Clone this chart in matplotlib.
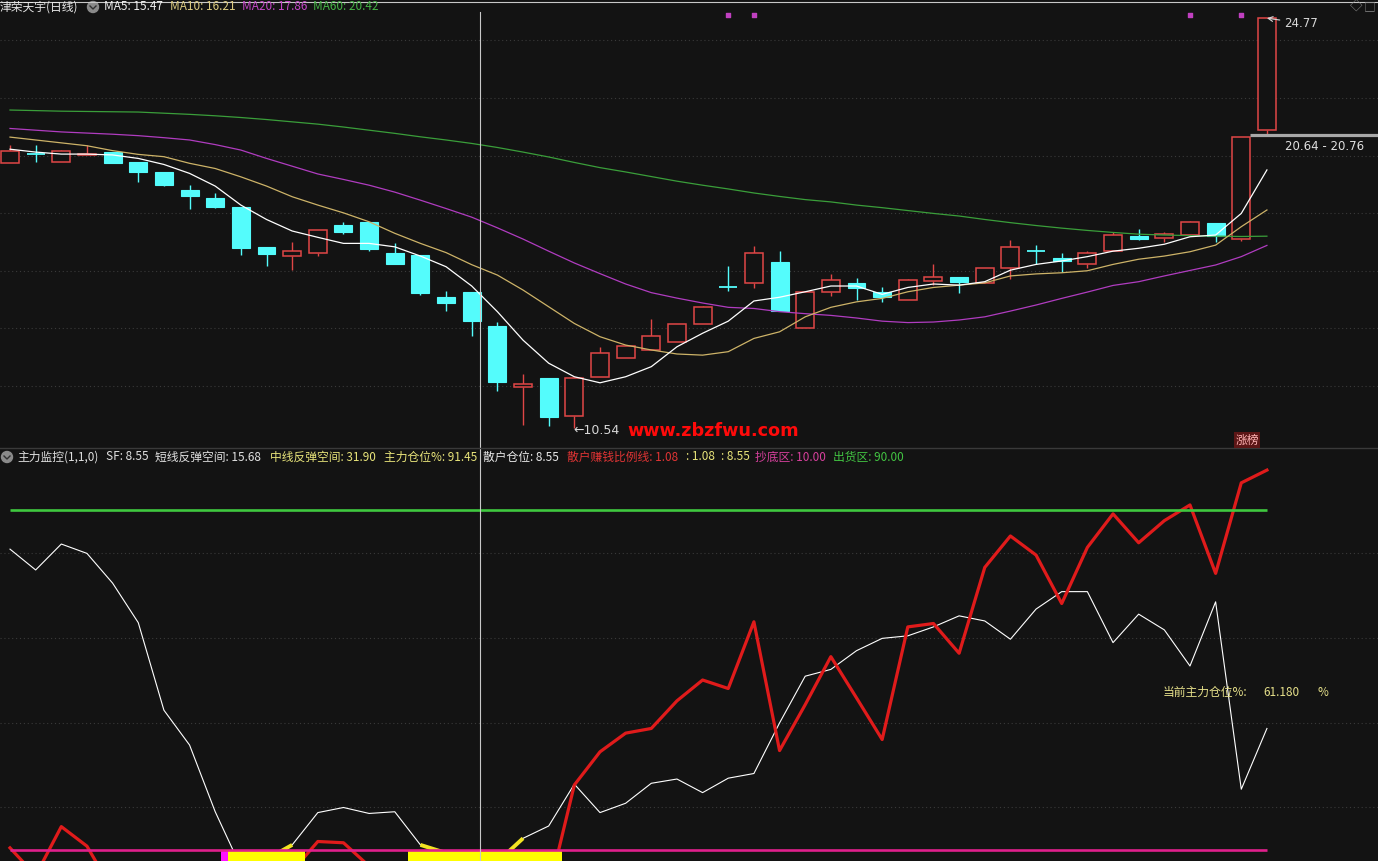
import matplotlib
matplotlib.use("Agg")
import matplotlib.pyplot as plt
from matplotlib.patches import Rectangle, Circle

plt.rcParams['font.family'] = ['Noto Sans CJK SC', 'DejaVu Sans']

# ---------------- data ----------------
opens = [19.75, 20.04, 19.78, 20.03, 20.12, 19.76, 19.43, 18.80, 18.51, 18.20,
         16.81, 16.51, 16.62, 17.58, 17.69, 16.61, 16.54, 15.09, 15.26, 14.08,
         11.95, 12.28, 10.97, 12.32, 12.98, 13.24, 13.51, 14.14, 15.43, 15.56,
         16.30, 14.00, 15.25, 15.56, 15.27, 14.98, 15.63, 15.77, 15.58, 16.08,
         16.68, 16.44, 16.22, 16.68, 17.20, 17.13, 17.24, 17.65, 17.10, 20.90]
highs = [20.37, 20.37, 20.19, 20.37, 20.14, 19.77, 19.44, 18.97, 18.69, 18.21,
         16.82, 16.99, 17.41, 17.68, 17.70, 16.96, 16.55, 15.30, 15.27, 14.21,
         12.41, 12.29, 12.28, 13.34, 13.43, 14.32, 14.15, 14.76, 16.16, 16.86,
         16.68, 15.25, 15.89, 15.75, 15.42, 15.72, 16.23, 15.78, 16.10, 17.07,
         16.89, 16.60, 16.68, 17.33, 17.44, 17.35, 17.73, 17.66, 20.64, 24.77]
lows = [19.75, 19.77, 19.76, 20.02, 19.75, 19.09, 18.94, 18.15, 18.19, 16.54,
        16.16, 16.02, 16.52, 17.26, 16.69, 16.22, 15.17, 14.60, 13.74, 11.83,
        10.64, 10.61, 10.54, 12.32, 12.98, 13.24, 13.51, 14.14, 15.31, 15.41,
        14.59, 14.00, 15.13, 14.98, 14.90, 14.98, 15.49, 15.22, 15.56, 15.72,
        16.23, 15.97, 16.10, 16.68, 17.07, 17.01, 17.24, 16.99, 17.05, 20.76]
closes = [20.17, 20.02, 20.17, 20.07, 19.75, 19.44, 18.97, 18.60, 18.22, 16.80,
          16.59, 16.67, 17.41, 17.35, 16.74, 16.24, 15.23, 14.89, 14.26, 12.15,
          12.07, 10.93, 12.28, 13.13, 13.39, 13.73, 14.14, 14.73, 15.41, 16.60,
          14.59, 15.25, 15.68, 15.39, 15.10, 15.68, 15.77, 15.62, 16.08, 16.81,
          16.64, 16.34, 16.60, 17.24, 17.11, 17.28, 17.68, 17.21, 20.64, 24.77]

ma5 = [20.22, 20.12, 20.05, 20.05, 20.02, 19.90, 19.69, 19.38, 18.94, 18.28,
       17.78, 17.38, 17.16, 16.95, 16.95, 16.83, 16.51, 16.14, 15.47, 14.58,
       13.59, 12.79, 12.32, 12.11, 12.32, 12.67, 13.36, 13.83, 14.25, 14.95,
       15.08, 15.27, 15.47, 15.47, 15.18, 15.42, 15.54, 15.50, 15.62, 16.02,
       16.22, 16.34, 16.49, 16.68, 16.78, 16.92, 17.18, 17.24, 17.99, 19.50]
ma10 = [20.64, 20.54, 20.44, 20.34, 20.17, 20.04, 19.96, 19.73, 19.55, 19.26,
        18.94, 18.57, 18.28, 18.01, 17.70, 17.30, 16.95, 16.63, 16.21, 15.85,
        15.33, 14.75, 14.17, 13.71, 13.42, 13.25, 13.11, 13.07, 13.19, 13.65,
        13.88, 14.40, 14.73, 14.92, 15.04, 15.27, 15.42, 15.50, 15.58, 15.82,
        15.89, 15.93, 16.00, 16.22, 16.40, 16.51, 16.66, 16.89, 17.53, 18.11]
ma20 = [20.94, 20.88, 20.82, 20.78, 20.74, 20.69, 20.62, 20.54, 20.38, 20.19,
        19.90, 19.63, 19.36, 19.17, 18.97, 18.73, 18.45, 18.16, 17.86, 17.49,
        17.10, 16.68, 16.27, 15.90, 15.54, 15.24, 15.05, 14.88, 14.73, 14.69,
        14.58, 14.51, 14.45, 14.36, 14.25, 14.20, 14.22, 14.29, 14.40, 14.60,
        14.81, 15.04, 15.26, 15.49, 15.62, 15.82, 16.01, 16.20, 16.49, 16.88]
ma60 = [21.58, 21.56, 21.54, 21.53, 21.52, 21.51, 21.47, 21.43, 21.38, 21.32,
        21.25, 21.17, 21.09, 20.99, 20.88, 20.77, 20.65, 20.54, 20.42, 20.28,
        20.12, 19.95, 19.76, 19.58, 19.43, 19.27, 19.11, 18.97, 18.84, 18.70,
        18.58, 18.47, 18.39, 18.28, 18.19, 18.09, 17.99, 17.90, 17.78, 17.67,
        17.57, 17.48, 17.40, 17.33, 17.27, 17.24, 17.22, 17.20, 17.19, 17.20]

signal_dots = [28, 29, 46, 48]          # small magenta marks above candles
price_low_label = (22, 10.54)
price_high_label = (49, 24.77)
gap_label = (48, 20.64, 20.76)
cursor_index = 18.33

# lower panel
retail_pos = [80.8, 75.9, 82.0, 79.8, 72.8, 63.5, 42.9, 34.7, 19.0, 6.0,
              7.8, 11.2, 18.8, 20.0, 18.6, 19.0, 11.2, 9.3, 8.55, 7.2,
              12.75, 15.65, 25.5, 18.8, 21.0, 25.7, 26.7, 23.5, 26.9, 28.0,
              39.9, 50.9, 52.5, 56.9, 59.8, 60.4, 62.5, 65.1, 63.9, 59.6,
              66.7, 70.8, 70.8, 58.8, 65.5, 61.8, 53.3, 68.4, 24.3, 38.6]
retail_profit = [10.5, 4.0, 15.5, 10.9, 0.5, 1.0, 1.5, 1.0, 0.5, 0.5,
                 1.0, 5.0, 12.0, 11.7, 6.2, 2.0, 1.5, 1.0, 1.08, 0.5,
                 0.5, 0.3, 25.3, 33.1, 37.5, 38.6, 45.1, 50.0, 48.0, 63.7,
                 33.4, 44.2, 55.5, 45.8, 36.0, 62.5, 63.3, 56.3, 76.5, 83.9,
                 79.4, 68.0, 81.2, 89.1, 82.3, 87.5, 91.2, 75.1, 96.4, 99.4]
buy_zone = 10.0
sell_zone = 90.0
yellow_bar_idx = [9, 10, 11, 16, 17, 18, 19, 20, 21]
magenta_bar_idx = [9]
yellow_segments = [(10, 11), (16, 17), (19, 20)]

top_header = [("津荣天宇(日线)", "#e8e8e8", 0), ("MA5: 15.47", "#f0f0f0", 104),
              ("MA10: 16.21", "#dccb80", 170), ("MA20: 17.86", "#c548c8", 242),
              ("MA60: 20.42", "#46b446", 313)]
sub_header = [("主力监控(1,1,0)", "#e0e0e0", 17), ("SF: 8.55", "#e0e0e0", 106),
              ("短线反弹空间: 15.68", "#e0e0e0", 155), ("中线反弹空间: 31.90", "#e8e47a", 270),
              ("主力仓位%: 91.45", "#e8e47a", 384), ("散户仓位: 8.55", "#e8e8e8", 483),
              ("散户赚钱比例线: 1.08", "#e03434", 567), (": 1.08", "#e8e47a", 686),
              (": 8.55", "#e8e47a", 721), ("抄底区: 10.00", "#d6409c", 755),
              ("出货区: 90.00", "#42c442", 833)]
current_label = ("当前主力仓位%:", "61.180", "%")

# ---------------- figure ----------------
BG = '#131313'
UP = '#e04646'
DN = '#54fcfc'
W, H = 1378, 861
split = 448
fig = plt.figure(figsize=(W / 100, H / 100), dpi=100, facecolor=BG)
ax1 = fig.add_axes([0, 1 - split / H, 1, split / H])
ax2 = fig.add_axes([0, 0, 1, (H - split) / H])
for ax in (ax1, ax2):
    ax.set_facecolor(BG)
    ax.set_xlim(-0.39, 53.33)
    for s in ax.spines.values():
        s.set_visible(False)
    ax.set_xticks([])
    ax.set_yticks([])
ax1.set_ylim(9.846, 25.40)
ax2.set_ylim(7.41, 104.6)

grid_kw = dict(color='#3a3a3a', lw=0.8, ls=(0, (1, 2.5)), zorder=0)
for g in [12, 14, 16, 18, 20, 22, 24]:
    ax1.axhline(g, **grid_kw)
for g in [20, 40, 60, 80]:
    ax2.axhline(g, **grid_kw)

n = len(closes)
idx = list(range(n))
bw = 0.7
for i, (o, h, l, c) in enumerate(zip(opens, highs, lows, closes)):
    top, bot = max(o, c), min(o, c)
    if c > o:
        ax1.vlines(i, top, h, color=UP, lw=1.0, zorder=2)
        ax1.vlines(i, l, bot, color=UP, lw=1.0, zorder=2)
        ax1.add_patch(Rectangle((i - bw / 2, bot), bw, top - bot, facecolor=BG,
                                edgecolor=UP, lw=1.1, zorder=2))
    else:
        ax1.vlines(i, l, h, color=DN, lw=1.0, zorder=2)
        if top - bot < 0.05:
            ax1.hlines(o, i - bw / 2, i + bw / 2, color=DN, lw=1.3, zorder=2)
        else:
            ax1.add_patch(Rectangle((i - bw / 2, bot), bw, top - bot, facecolor=DN,
                                    edgecolor=DN, lw=0.8, zorder=2))

ax1.plot(idx, ma60, color='#3a9e3a', lw=0.9, zorder=4)
ax1.plot(idx, ma20, color='#b03cc0', lw=0.9, zorder=4)
ax1.plot(idx, ma10, color='#cdb368', lw=0.9, zorder=4)
ax1.plot(idx, ma5, color='#ffffff', lw=0.9, zorder=4)

ax1.scatter(signal_dots, [0.966] * len(signal_dots), marker='s', s=5,
            color='#c040c0', transform=ax1.get_xaxis_transform(), zorder=5)

ax1.annotate('←' + f'{price_low_label[1]:.2f}', xy=price_low_label, xytext=(-1, -2),
             textcoords='offset pixels', ha='left', va='center', color='#d8d8d8',
             fontsize=9, family=['DejaVu Sans'], zorder=6)
ax1.annotate(f'{price_high_label[1]:.2f}', xy=price_high_label, xytext=(17, -5),
             textcoords='offset pixels', ha='left', va='center', color='#d8d8d8',
             fontsize=8.5, family=['DejaVu Sans'], zorder=6,
             arrowprops=dict(arrowstyle='->', color='#d8d8d8', lw=0.8,
                             shrinkA=1, shrinkB=0))
gi, g_lo, g_hi = gap_label
ax1.hlines((g_lo + g_hi) / 2, gi + bw / 2, 53.5, color='#a8a8a8', lw=2.3, zorder=5)
ax1.annotate(f'{g_lo:.2f} - {g_hi:.2f}', xy=(gi + 1, (g_lo + g_hi) / 2), xytext=(18, -11),
             textcoords='offset pixels', ha='left', va='center', color='#e0e0e0',
             fontsize=8.5, family=['DejaVu Sans'], zorder=6)

ax1.axvline(cursor_index, ymin=0, ymax=(split - 12) / split, color='#c8c8c8', lw=0.8, zorder=7)
ax2.axvline(cursor_index, color='#c8c8c8', lw=0.8, zorder=7)

# lower panel
ax2.plot(idx, retail_pos, color='#ffffff', lw=0.8, zorder=3)
ax2.plot(idx, retail_profit, color='#e01b1b', lw=2.3, zorder=3)
for a, b in yellow_segments:
    ax2.plot([a, b], [retail_pos[a], retail_pos[b]], color='#f2e422', lw=2.8,
             solid_capstyle='butt', zorder=3.5)
ax2.bar(yellow_bar_idx, buy_zone, bottom=0, width=1.0, color='#ffff00', zorder=5)
ax2.bar([i - 0.63 for i in magenta_bar_idx], buy_zone, bottom=0, width=0.26,
        color='#ff10ff', zorder=5)
ax2.hlines(sell_zone, 0, n - 1, color='#3fc83f', lw=1.9, zorder=6)
ax2.hlines(buy_zone, 0, n - 1, color='#e0208c', lw=1.9, zorder=6)

# ---------------- ui overlay ----------------
ui = fig.add_axes([0, 0, 1, 1], facecolor='none')
ui.set_xlim(0, W)
ui.set_ylim(H, 0)
ui.axis('off')
ui.plot([0, W], [2, 2], color='#c8c8c8', lw=0.8)
ui.plot([0, W], [split, split], color='#3a3a3a', lw=1.0)

for txt, col, x in top_header:
    ui.text(x, 7, txt, color=col, fontsize=8.5, ha='left', va='center')
for txt, col, x in sub_header:
    ui.text(x, 457, txt, color=col, fontsize=8.5, ha='left', va='center')

for cx, cy in [(93, 7), (7, 457)]:
    ui.add_patch(Circle((cx, cy), 5.5, color='#8a8a8a'))
    ui.plot([cx - 3, cx, cx + 3], [cy - 1, cy + 2, cy - 1], color='#303030', lw=1.0)

ui.text(1356, 7, '◇', color='#8a8a8a', fontsize=9, ha='center', va='center')
ui.text(1370, 7, '□', color='#8a8a8a', fontsize=8.5, ha='center', va='center')

ui.text(713, 431, 'www.zbzfwu.com', color='#ff0a0a', fontsize=12.7, fontweight='bold',
        ha='center', va='center', family=['DejaVu Sans'])
ui.text(1247, 440, '涨榜', color='#ffb4b4', fontsize=8.5, ha='center', va='center',
        bbox=dict(facecolor='#5c1616', edgecolor='none', pad=1.2))

ui.text(1163, 692, current_label[0], color='#e6e08a', fontsize=8.5, ha='left', va='center')
ui.text(1263, 692, current_label[1], color='#e6e08a', fontsize=8.5, ha='left', va='center')
ui.text(1318, 692, current_label[2], color='#e6e08a', fontsize=8.5, ha='left', va='center')

fig.savefig('out.png', dpi=100, facecolor=BG)
